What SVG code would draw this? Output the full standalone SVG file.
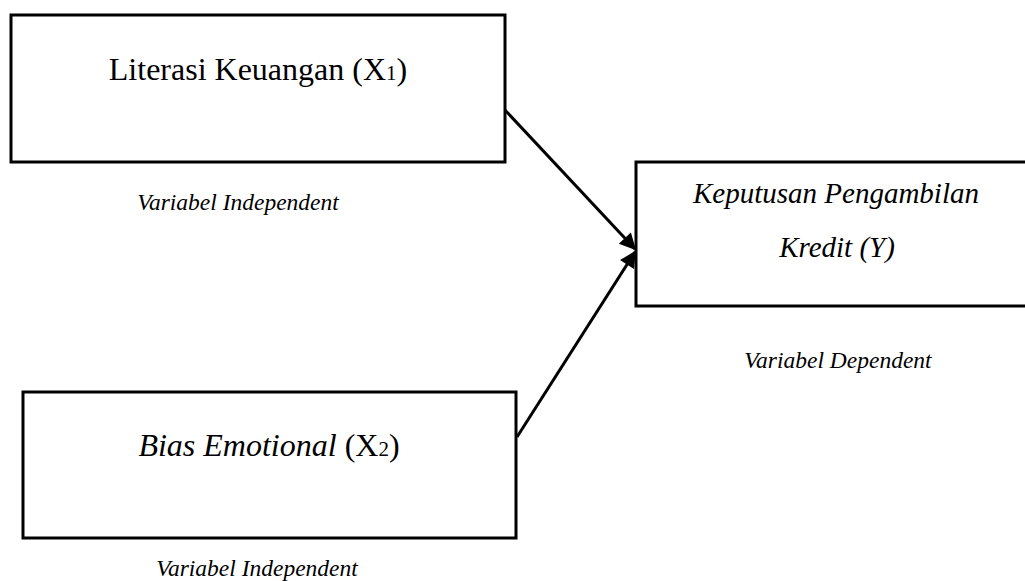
<svg xmlns="http://www.w3.org/2000/svg" width="1025" height="581" viewBox="0 0 1025 581">
<style>
.box{fill:#fff;stroke:#000;stroke-width:3}
.t{font-family:"Liberation Serif","Times New Roman",serif;fill:#000;text-anchor:middle}
.big{font-size:32px}
.mid{font-size:29px}
.lab{font-size:23.5px;font-style:italic}
.it{font-style:italic}
.sub{font-size:21px}
.con{stroke:#000;stroke-width:3;fill:none}
</style>
<defs>
<marker id="ah" viewBox="0 0 10 10" refX="9" refY="5" markerWidth="6.5" markerHeight="5.5" markerUnits="strokeWidth" orient="auto">
<path d="M0,0 L10,5 L0,10 z" fill="#000"/>
</marker>
</defs>
<g id="connectors">
<line class="con" x1="505" y1="110" x2="635" y2="249" marker-end="url(#ah)"/>
<line class="con" x1="517" y1="437" x2="635" y2="252" marker-end="url(#ah)"/>
</g>
<g id="node-x1">
<rect class="box" x="11" y="15" width="494" height="147"/>
<text class="t big" x="258" y="80">Literasi Keuangan (X<tspan class="sub">1</tspan>)</text>
<text class="t lab" x="238" y="210">Variabel Independent</text>
</g>
<g id="node-x2">
<rect class="box" x="23" y="392" width="493" height="146"/>
<text class="t big" x="269" y="456"><tspan class="it">Bias Emotional</tspan> (X<tspan class="sub">2</tspan>)</text>
<text class="t lab" x="257" y="576">Variabel Independent</text>
</g>
<g id="node-y">
<rect class="box" x="636" y="162" width="395" height="144"/>
<text class="t mid it" x="836" y="203">Keputusan Pengambilan</text>
<text class="t mid it" x="837" y="257">Kredit (Y)</text>
<text class="t lab" x="838" y="368">Variabel Dependent</text>
</g>
</svg>
